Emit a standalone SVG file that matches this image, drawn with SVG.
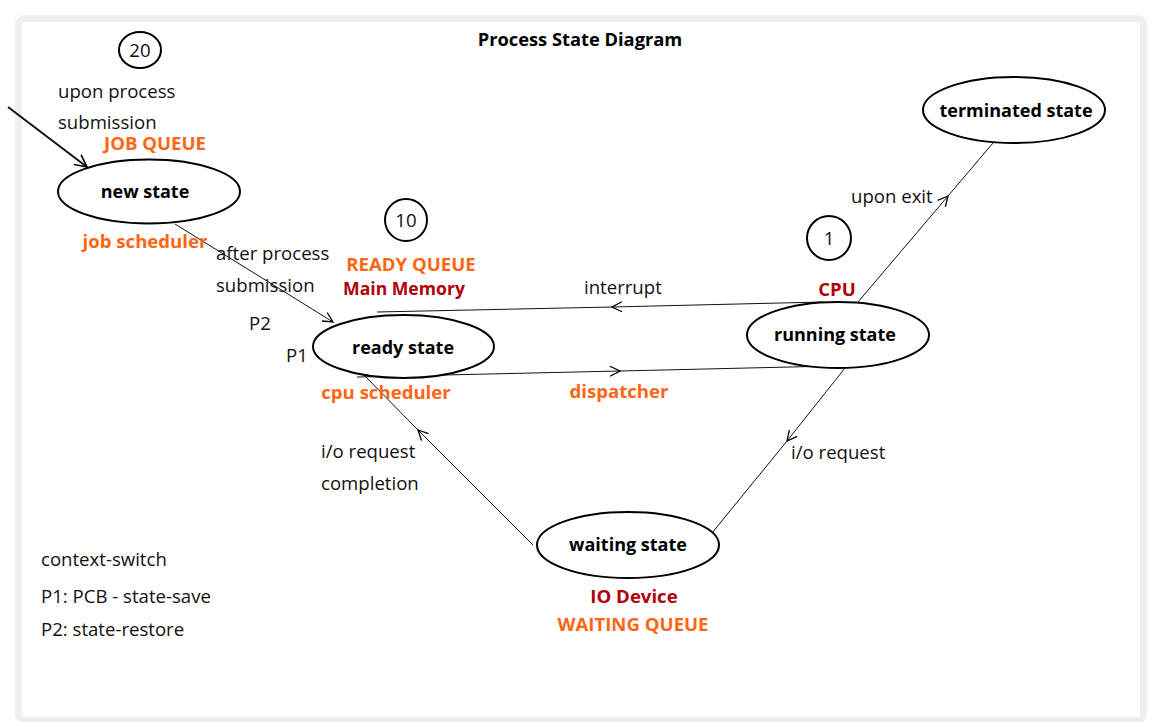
<svg xmlns="http://www.w3.org/2000/svg" width="1157" height="722" viewBox="0 0 1157 722">
<style>
.t{font-family:"Open Sans","Liberation Sans",sans-serif;font-size:18.6px;fill:#111}
.b{font-family:"Open Sans","Liberation Sans",sans-serif;font-size:18px;font-weight:bold;fill:#000}
.o{font-family:"Open Sans","Liberation Sans",sans-serif;font-size:18.6px;font-weight:bold;fill:#ff6614}
.r{font-family:"Open Sans","Liberation Sans",sans-serif;font-size:18.6px;font-weight:bold;fill:#b0000a}
.n{fill:#fff;stroke:#000;stroke-width:2}
.e{fill:none;stroke:#111;stroke-width:1}
.in{fill:none;stroke:#111;stroke-width:2}
</style>
<defs>
<marker id="ah" viewBox="0 0 12 12" refX="11" refY="6" markerWidth="12" markerHeight="12" markerUnits="userSpaceOnUse" orient="auto">
<path d="M1,1 L11,6 L1,11" fill="none" stroke="#000" stroke-width="1.3"/>
</marker>
<marker id="ahb" viewBox="0 0 14 14" refX="13" refY="7" markerWidth="14" markerHeight="14" markerUnits="userSpaceOnUse" orient="auto">
<path d="M1,1 L13,7 L1,13" fill="none" stroke="#000" stroke-width="1.6"/>
</marker>
</defs>
<rect x="18.5" y="18.5" width="1125" height="702" rx="6" fill="#fff" stroke="#efefef" stroke-width="7"/>
<text class="b" x="580" y="46" text-anchor="middle" style="font-size:18.3px">Process State Diagram</text>

<g id="connectors">
<path class="in" d="M8,107 L87,167" marker-end="url(#ahb)"/>
<path class="e" d="M175,224 L333,322" marker-end="url(#ah)"/>
<path class="e" d="M823,302 L612,307 L377,312" marker-mid="url(#ah)"/>
<path class="e" d="M357,377 L620,371 L833,366" marker-mid="url(#ah)"/>
<path class="e" d="M858,302 L948,196 L993,143" marker-mid="url(#ah)"/>
<path class="e" d="M845,368 L787,441 L712,533" marker-mid="url(#ah)"/>
<path class="e" d="M533,545 L418,430 L360,371" marker-mid="url(#ah)"/>
</g>

<g id="badge20"><ellipse class="n" cx="140" cy="50" rx="21" ry="18" stroke-width="1.6"/><text class="t" x="140" y="57" text-anchor="middle">20</text></g>
<g id="badge10"><ellipse class="n" cx="406" cy="220" rx="21" ry="21" stroke-width="1.6"/><text class="t" x="406" y="227" text-anchor="middle">10</text></g>
<g id="badge1"><ellipse class="n" cx="829" cy="238" rx="22" ry="22" stroke-width="1.6"/><text class="t" x="829" y="245" text-anchor="middle">1</text></g>

<g id="new-state"><ellipse class="n" cx="149" cy="191.5" rx="91" ry="32"/><text class="b" x="145" y="198" text-anchor="middle">new state</text></g>
<g id="ready-state"><ellipse class="n" cx="403.5" cy="346.5" rx="90.5" ry="31.5"/><text class="b" x="403" y="354" text-anchor="middle">ready state</text></g>
<g id="running-state"><ellipse class="n" cx="838" cy="335" rx="91" ry="33"/><text class="b" x="835" y="341" text-anchor="middle">running state</text></g>
<g id="terminated-state"><ellipse class="n" cx="1014" cy="110" rx="91" ry="33"/><text class="b" x="1016" y="117" text-anchor="middle">terminated state</text></g>
<g id="waiting-state"><ellipse class="n" cx="628" cy="545" rx="91" ry="33"/><text class="b" x="628" y="551" text-anchor="middle">waiting state</text></g>

<text class="t" x="58" y="98">upon process</text>
<text class="t" x="58" y="129">submission</text>
<text class="o" x="155" y="150" text-anchor="middle">JOB QUEUE</text>
<text class="o" x="145" y="248" text-anchor="middle">job scheduler</text>
<text class="t" x="216" y="260">after process</text>
<text class="t" x="216" y="292">submission</text>
<text class="o" x="411" y="271" text-anchor="middle">READY QUEUE</text>
<text class="r" x="404" y="295" text-anchor="middle" style="font-size:17.6px">Main Memory</text>
<text class="t" x="584" y="294">interrupt</text>
<text class="t" x="249" y="330">P2</text>
<text class="t" x="286" y="362">P1</text>
<text class="o" x="386" y="399" text-anchor="middle">cpu scheduler</text>
<text class="o" x="619" y="398" text-anchor="middle">dispatcher</text>
<text class="r" x="837" y="296" text-anchor="middle">CPU</text>
<text class="t" x="851" y="203">upon exit</text>
<text class="t" x="321" y="458">i/o request</text>
<text class="t" x="321" y="490">completion</text>
<text class="t" x="791" y="459">i/o request</text>
<text class="r" x="634" y="603" text-anchor="middle">IO Device</text>
<text class="o" x="633" y="631" text-anchor="middle">WAITING QUEUE</text>
<text class="t" x="41" y="566">context-switch</text>
<text class="t" x="41" y="603">P1: PCB - state-save</text>
<text class="t" x="41" y="636">P2: state-restore</text>
</svg>
